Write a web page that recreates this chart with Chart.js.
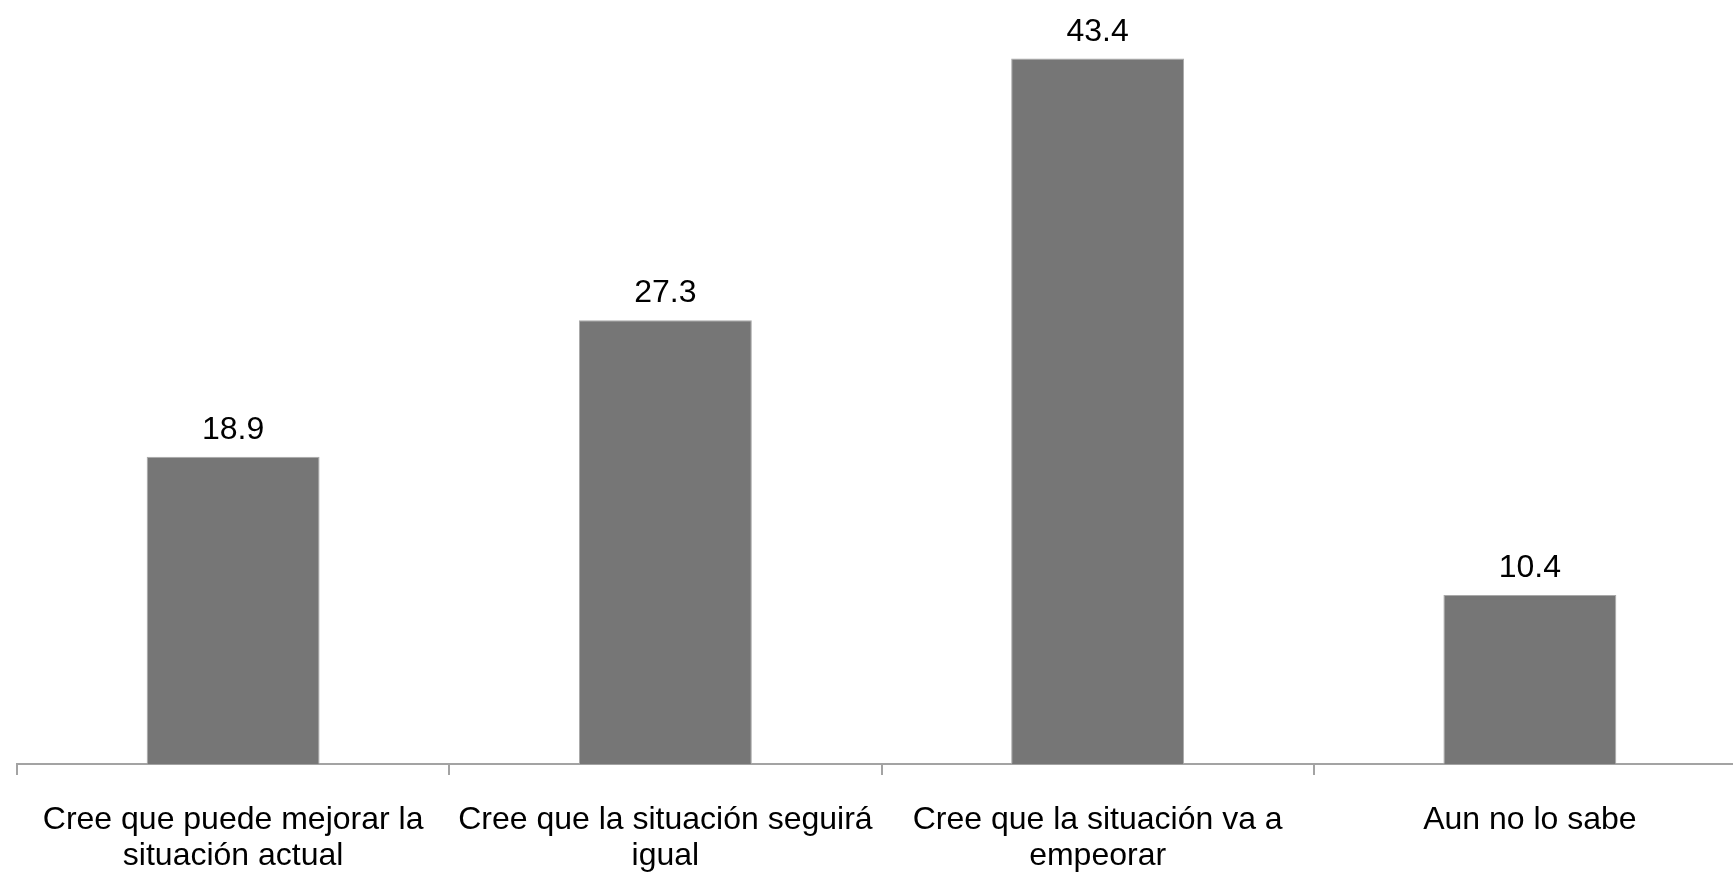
<!DOCTYPE html>
<html lang="es">
<head>
<meta charset="utf-8">
<title>Expectativas sobre la situación</title>
<script src="https://cdn.jsdelivr.net/npm/chart.js@4/dist/chart.umd.min.js"></script>
<style>
    html, body { margin: 0; padding: 0; background: #fff; overflow: hidden; }
    #wrap { width: 1746px; height: 874px; position: relative; }
</style>
</head>
<body>
<div id="wrap"><canvas id="grafico"></canvas></div>
<script>
// Datos del gráfico
const categorias = [
    ["Cree que puede mejorar la", "situación actual"],
    ["Cree que la situación seguirá", "igual"],
    ["Cree que la situación va a", "empeorar"],
    "Aun no lo sabe"
];
const porcentajes = [18.9, 27.3, 43.4, 10.4];

const fuente = "'Liberation Sans', Arial, Helvetica, sans-serif";

// Etiquetas de valor encima de cada barra
const etiquetasValor = {
    id: 'etiquetasValor',
    afterDatasetsDraw(chart) {
        const ctx = chart.ctx;
        const meta = chart.getDatasetMeta(0);
        ctx.save();
        ctx.font = "32px " + fuente;
        ctx.fillStyle = "#000";
        ctx.textAlign = "center";
        ctx.textBaseline = "alphabetic";
        meta.data.forEach((bar, i) => {
            ctx.fillText(porcentajes[i].toFixed(1), bar.x, bar.y - 18);
        });
        ctx.restore();
    }
};

const ctx = document.getElementById('grafico').getContext('2d');
new Chart(ctx, {
    type: 'bar',
    data: {
        labels: categorias,
        datasets: [{
            data: porcentajes,
            backgroundColor: '#767676',
            borderColor: '#a9a9a9',
            borderWidth: 1,
            barPercentage: 0.4,
            categoryPercentage: 1
        }]
    },
    options: {
        responsive: true,
        maintainAspectRatio: false,
        animation: false,
        layout: { padding: { left: 17, right: 0, top: 0, bottom: 0 } },
        plugins: {
            legend: { display: false },
            tooltip: { enabled: false }
        },
        scales: {
            x: {
                grid: {
                    offset: true,
                    drawOnChartArea: false,
                    drawTicks: true,
                    tickLength: 11,
                    color: '#a3a3a3',
                    lineWidth: 2
                },
                border: { color: '#a3a3a3', width: 2 },
                ticks: {
                    color: '#000',
                    padding: 28,
                    maxRotation: 0,
                    autoSkip: false,
                    font: { family: fuente, size: 32, lineHeight: 1.1 }
                },
                afterFit(axis) { axis.height = 110; }
            },
            y: {
                display: false,
                min: 0,
                max: 47
            }
        }
    },
    plugins: [etiquetasValor]
});
</script>
</body>
</html>
